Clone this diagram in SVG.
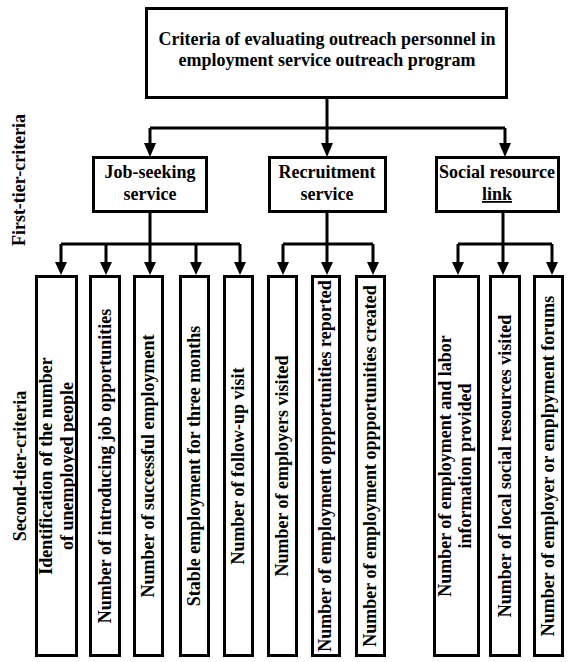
<svg xmlns="http://www.w3.org/2000/svg" width="571" height="662" viewBox="0 0 571 662">
<defs>
<style>
.box{fill:#fff;stroke:#000;stroke-width:3}
.ln{fill:none;stroke:#000;stroke-width:3}
.t{font-family:'Liberation Serif','Times New Roman','DejaVu Serif',serif;font-weight:bold;font-size:18px;fill:#000;text-anchor:middle}
</style>
</defs>
<rect width="571" height="662" fill="#fff"/>
<g id="connectors">
<path class="ln" d="M327,99 V128"/>
<path class="ln" d="M150,128 H505"/>
<path class="ln" d="M150,128 V143"/>
<path class="ln" d="M327,128 V143"/>
<path class="ln" d="M505,128 V143"/>
<path d="M144,143 H156 L150,157 Z"/>
<path d="M321,143 H333 L327,157 Z"/>
<path d="M499,143 H511 L505,157 Z"/>
<path class="ln" d="M150,212 V244 M61,244 H240"/>
<path class="ln" d="M327,212 V244 M283,244 H373"/>
<path class="ln" d="M503,212 V244 M458,244 H552"/>
<path class="ln" d="M61,244 V262 M106,244 V262 M150,244 V262 M196,244 V262 M240,244 V262 M283,244 V262 M327,244 V262 M373,244 V262 M458,244 V262 M503,244 V262 M552,244 V262"/>
<path d="M55,262 H67 L61,275 Z M100,262 H112 L106,275 Z M144,262 H156 L150,275 Z M190,262 H202 L196,275 Z M234,262 H246 L240,275 Z M277,262 H289 L283,275 Z M321,262 H333 L327,275 Z M367,262 H379 L373,275 Z M452,262 H464 L458,275 Z M497,262 H509 L503,275 Z M546,262 H558 L552,275 Z"/>
</g>
<g class="t" font-family="Liberation Serif, serif" font-weight="bold" font-size="18">
<g id="side-labels">
<text transform="translate(25,180) rotate(-90)">First-tier-criteria</text>
<text transform="translate(26,466) rotate(-90)">Second-tier-criteria</text>
</g>
<g id="root">
<rect class="box" x="146.5" y="8.5" width="360" height="89"/>
<text x="327" y="45">Criteria of evaluating outreach personnel in</text>
<text x="327" y="66">employment service outreach program</text>
</g>
<g id="job-seeking">
<rect class="box" x="93.5" y="157.5" width="113" height="54"/>
<text x="150" y="178">Job-seeking</text>
<text x="150" y="200">service</text>
</g>
<g id="recruitment">
<rect class="box" x="269.5" y="157.5" width="116" height="54"/>
<text x="327" y="178">Recruitment</text>
<text x="327" y="200">service</text>
</g>
<g id="social">
<rect class="box" x="436.5" y="157.5" width="122" height="54"/>
<text x="497" y="178">Social resource</text>
<text x="497" y="200" text-decoration="underline">link</text>
</g>
<g id="c1">
<rect class="box" x="36.5" y="276.5" width="40" height="379"/>
<text transform="translate(52,466) rotate(-90)">Identification of the number</text>
<text transform="translate(73,466) rotate(-90)">of unemployed people</text>
</g>
<g id="c2">
<rect class="box" x="90.5" y="276.5" width="29" height="379"/>
<text transform="translate(111,466) rotate(-90)">Number of introducing job opportunities</text>
</g>
<g id="c3">
<rect class="box" x="134.5" y="276.5" width="28" height="379"/>
<text transform="translate(154,466) rotate(-90)">Number of successful employment</text>
</g>
<g id="c4">
<rect class="box" x="180.5" y="276.5" width="28" height="379"/>
<text transform="translate(200,466) rotate(-90)">Stable employment for three months</text>
</g>
<g id="c5">
<rect class="box" x="224.5" y="276.5" width="28" height="379"/>
<text transform="translate(244,466) rotate(-90)">Number of follow-up visit</text>
</g>
<g id="c6">
<rect class="box" x="268.5" y="276.5" width="28" height="379"/>
<text transform="translate(288,466) rotate(-90)">Number of employers visited</text>
</g>
<g id="c7">
<rect class="box" x="312.5" y="276.5" width="27" height="379"/>
<text transform="translate(331,466) rotate(-90)">Number of employment oppportunities reported</text>
</g>
<g id="c8">
<rect class="box" x="356.5" y="276.5" width="28" height="379"/>
<text transform="translate(376,466) rotate(-90)">Number of employment oppportunities created</text>
</g>
<g id="c9">
<rect class="box" x="434.5" y="276.5" width="44" height="379"/>
<text transform="translate(451,466) rotate(-90)">Number of employment and labor</text>
<text transform="translate(471,466) rotate(-90)">information provided</text>
</g>
<g id="c10">
<rect class="box" x="490.5" y="276.5" width="29" height="379"/>
<text transform="translate(511,466) rotate(-90)">Number of local social resources visited</text>
</g>
<g id="c11">
<rect class="box" x="534.5" y="276.5" width="28" height="379"/>
<text transform="translate(554,466) rotate(-90)">Number of employer or emplpyment forums</text>
</g>
</g>
</svg>
